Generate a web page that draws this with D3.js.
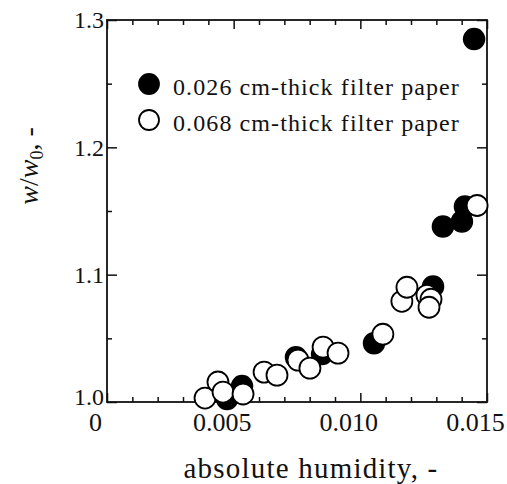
<!DOCTYPE html>
<html>
<head>
<meta charset="utf-8">
<script src="https://cdn.jsdelivr.net/npm/d3@7"></script>
<style>
  body { margin: 0; background: #fff; }
  svg text { font-family: "Liberation Serif", "DejaVu Serif", serif; fill: #111; }
</style>
</head>
<body>
<svg id="chart" width="507" height="484"></svg>
<script>
// 0.026 cm-thick filter paper (filled)
var thinX = [0.00474, 0.00533, 0.00746, 0.00849, 0.01054, 0.01287, 0.01326, 0.01401, 0.01413, 0.01449];
var thinY = [1.0023, 1.0125, 1.0352, 1.0376, 1.0462, 1.0908, 1.1378, 1.1417, 1.1535, 1.285];

// 0.068 cm-thick filter paper (open)
var thickX = [0.00387, 0.00438, 0.00458, 0.00537, 0.0062, 0.00671, 0.00754, 0.00801, 0.00853, 0.00912,
              0.01089, 0.01164, 0.01184, 0.01263, 0.01279, 0.01271, 0.01461];
var thickY = [1.0031, 1.0157, 1.0078, 1.0063, 1.0235, 1.0211, 1.0329, 1.0266, 1.0431, 1.0384,
              1.0532, 1.0791, 1.0901, 1.0838, 1.0807, 1.0744, 1.1543];

var xTickLabels = [0, 0.005, 0.010, 0.015];
var yTickLabels = [1.0, 1.1, 1.2, 1.3];
var legendLabels = ["0.026 cm-thick filter paper", "0.068 cm-thick filter paper"];

var svg = d3.select("#chart");
var pLeft = 107, pRight = 487, pTop = 20, pBottom = 402;

var x = d3.scaleLinear().domain([0, 0.015]).range([pLeft, pRight]);
var y = d3.scaleLinear().domain([1.0, 1.3]).range([pBottom, pTop]);

var minorX = d3.range(0, 16).map(function(i) { return i * 0.001; });
var minorY = d3.range(0, 7).map(function(i) { return 1 + i * 0.05; });

function isMajorX(d) { return Math.abs(Math.round(d / 0.005) * 0.005 - d) < 1e-9; }
function isMajorY(d) { return Math.abs(Math.round((d - 1) / 0.1) * 0.1 - (d - 1)) < 1e-9; }

// inward ticks on all four sides
var ax = svg.append("g").attr("class", "axes");

ax.append("g").attr("transform", "translate(0," + pBottom + ")")
    .call(d3.axisTop(x).tickValues(minorX).tickSize(5).tickFormat(""))
    .call(function(g) {
        g.select(".domain").remove();
        g.selectAll(".tick line").attr("y2", function(d) { return isMajorX(d) ? -9 : -5; });
    });
ax.append("g").attr("transform", "translate(0," + pTop + ")")
    .call(d3.axisBottom(x).tickValues(minorX).tickSize(5).tickFormat(""))
    .call(function(g) {
        g.select(".domain").remove();
        g.selectAll(".tick line").attr("y2", function(d) { return isMajorX(d) ? 9 : 5; });
    });
ax.append("g").attr("transform", "translate(" + pLeft + ",0)")
    .call(d3.axisRight(y).tickValues(minorY).tickSize(5).tickFormat(""))
    .call(function(g) {
        g.select(".domain").remove();
        g.selectAll(".tick line").attr("x2", function(d) { return isMajorY(d) ? 10 : 5; });
    });
ax.append("g").attr("transform", "translate(" + pRight + ",0)")
    .call(d3.axisLeft(y).tickValues(minorY).tickSize(5).tickFormat(""))
    .call(function(g) {
        g.select(".domain").remove();
        g.selectAll(".tick line").attr("x2", function(d) { return isMajorY(d) ? -10 : -5; });
    });
ax.selectAll(".tick line").attr("stroke", "#111").attr("stroke-width", 1.5);

svg.append("rect")
    .attr("x", pLeft).attr("y", pTop)
    .attr("width", pRight - pLeft).attr("height", pBottom - pTop)
    .attr("fill", "none").attr("stroke", "#111").attr("stroke-width", 1.8);

// tick labels
var xl = svg.append("g").attr("transform", "translate(0," + pBottom + ")")
    .call(d3.axisBottom(x).tickValues(xTickLabels).tickSize(0).tickPadding(11)
        .tickFormat(function(d) { return d === 0 ? "0" : d3.format(".3f")(d); }));
xl.select(".domain").remove();
xl.selectAll("text").attr("font-size", 26).attr("dx", -12).attr("dy", "0.7em");

var yl = svg.append("g").attr("transform", "translate(" + pLeft + ",0)")
    .call(d3.axisLeft(y).tickValues(yTickLabels).tickSize(0).tickPadding(3)
        .tickFormat(d3.format(".1f")));
yl.select(".domain").remove();
yl.selectAll("text").attr("font-size", 24)
    .attr("dy", function(d) { return d === 1.0 ? "0.1em" : "0.32em"; });

// axis titles
svg.append("text")
    .attr("x", 311).attr("y", 478)
    .attr("text-anchor", "middle")
    .attr("font-size", 29)
    .attr("letter-spacing", 1.2)
    .text("absolute humidity, -");

var yt = svg.append("text")
    .attr("transform", "translate(38,166) rotate(-90)")
    .attr("text-anchor", "middle")
    .attr("font-size", 28);
yt.append("tspan").attr("font-style", "italic").text("w");
yt.append("tspan").text("/");
yt.append("tspan").attr("font-style", "italic").text("w");
yt.append("tspan").attr("font-size", 18).attr("dy", 5).text("0");
yt.append("tspan").attr("dy", -5).text(", -");

// points: filled first, open on top
var r = 10.5;
svg.append("g").selectAll("circle")
    .data(d3.range(thinX.length))
    .enter().append("circle")
    .attr("cx", function(i) { return x(thinX[i]); })
    .attr("cy", function(i) { return y(thinY[i]); })
    .attr("r", r)
    .attr("fill", "#000").attr("stroke", "#000").attr("stroke-width", 1.5);

svg.append("g").selectAll("circle")
    .data(d3.range(thickX.length))
    .enter().append("circle")
    .attr("cx", function(i) { return x(thickX[i]); })
    .attr("cy", function(i) { return y(thickY[i]); })
    .attr("r", r)
    .attr("fill", "#fff").attr("stroke", "#000").attr("stroke-width", 1.8);

// legend
var leg = svg.append("g");
legendLabels.forEach(function(lab, i) {
    var ly = 84 + i * 36;
    leg.append("circle")
        .attr("cx", 149).attr("cy", ly).attr("r", 10)
        .attr("fill", i === 0 ? "#000" : "#fff")
        .attr("stroke", "#000").attr("stroke-width", 1.8);
    leg.append("text")
        .attr("x", 173).attr("y", ly + 11)
        .attr("font-size", 24)
        .attr("letter-spacing", 1.1)
        .text(lab);
});
</script>
</body>
</html>
